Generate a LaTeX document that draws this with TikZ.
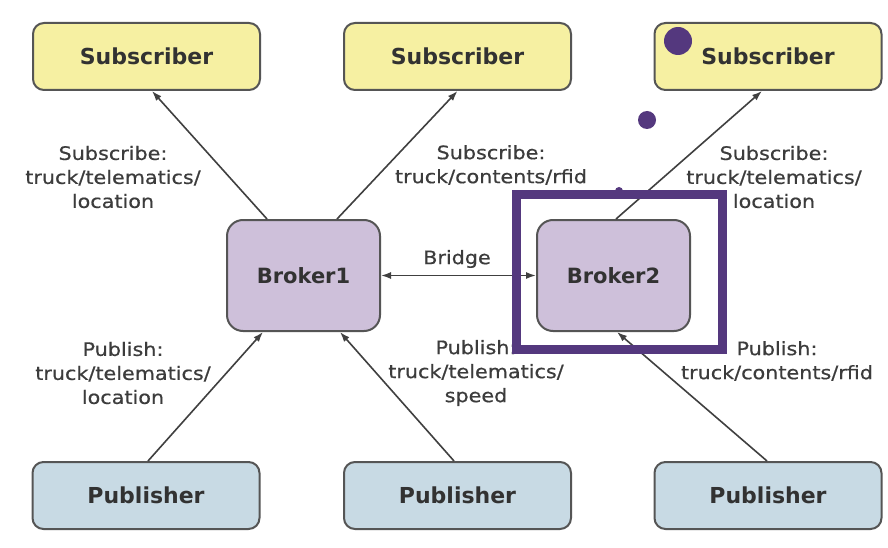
\documentclass[tikz,border=0pt]{standalone}
\usepackage{fontspec}
\setmainfont{DejaVu Sans}
\newfontfamily\lblfont[FakeStretch=1.12,FakeBold=0.6]{DejaVu Sans}
\usetikzlibrary{arrows.meta}
\definecolor{subfill}{RGB}{246,240,162}
\definecolor{brkfill}{RGB}{206,192,218}
\definecolor{pubfill}{RGB}{200,218,228}
\definecolor{edgec}{RGB}{85,85,85}
\definecolor{txtc}{RGB}{50,50,50}
\definecolor{lblc}{RGB}{60,60,60}
\definecolor{hl}{RGB}{84,56,126}
\tikzset{
  box/.style={draw=edgec, line width=2pt, rounded corners=11pt, inner sep=0pt,
    text=txtc, font=\bfseries\fontsize{22}{26}\selectfont},
  subbox/.style={box, fill=subfill, minimum width=227pt, minimum height=67pt},
  pubbox/.style={box, fill=pubfill, minimum width=227pt, minimum height=67pt},
  brkbox/.style={box, fill=brkfill, minimum width=153pt, minimum height=111pt, rounded corners=16pt, font=\bfseries\fontsize{21}{25}\selectfont},
  lbl/.style={text=lblc, align=center, inner sep=0pt, font=\lblfont\fontsize{18.5}{24}\selectfont},
  conn/.style={draw=black!75, line width=1.6pt, -{Latex[length=10pt,width=7pt]}},
}
\begin{document}
\begin{tikzpicture}[x=1pt,y=-1pt]
\useasboundingbox (0,0) rectangle (888,548);
\fill[white] (0,0) rectangle (888,548);
% nodes
\node[subbox] (s1) at (146.5,56.5) {Subscriber};
\node[subbox] (s2) at (457.5,56.5) {Subscriber};
\node[subbox] (s3) at (768,56.5) {Subscriber};
\node[brkbox] (b1) at (303.5,275.5) {Broker1};
\node[brkbox] (b2) at (613.5,275.5) {Broker2};
\node[pubbox] (p1) at (146,495.5) {Publisher};
\node[pubbox] (p2) at (457.5,495.5) {Publisher};
\node[pubbox] (p3) at (768,495.5) {Publisher};
% connectors
\draw[conn] ([xshift=-36.5pt]b1.north) -- ([xshift=5.5pt]s1.south);
\draw[conn] ([xshift=33.5pt]b1.north) -- (s2.south);
\draw[conn] ([xshift=2.5pt]b2.north) -- ([xshift=-6pt]s3.south);
\draw[conn] ([xshift=2pt]p1.north) -- ([xshift=-40.5pt]b1.south);
\draw[conn] ([xshift=-3.5pt]p2.north) -- ([xshift=36.5pt]b1.south);
\draw[conn] ([xshift=-1pt]p3.north) -- ([xshift=3.5pt]b2.south);
\draw[conn, {Latex[length=10pt,width=7pt]}-{Latex[length=10pt,width=7pt]}] (b1.east) -- (b2.west);
% labels
\node[lbl] (l1) at (113,177) {Subscribe:\\truck/telematics/\\location};
\node[lbl] (l2) at (491,165) {Subscribe:\\truck/contents/rfid};
\node[lbl] (l3) at (774,177) {Subscribe:\\truck/telematics/\\location};
\node[lbl] (l4) at (123,373) {Publish:\\truck/telematics/\\location};
\node[lbl] (l5) at (476,373) {Publish:\\truck/telematics/\\speed};
\node[lbl] (l6) at (777,361) {Publish:\\truck/contents/rfid};
\node[lbl] (l7) at (457,259) {Bridge};
% highlight
\draw[hl, line width=8.5pt] (516.5,194.5) rectangle (722.5,349.5);
\fill[hl] (678,41) circle (14);
\fill[hl] (647,120) circle (9);
\fill[hl] (619,191) circle (4);
\end{tikzpicture}
\end{document}
